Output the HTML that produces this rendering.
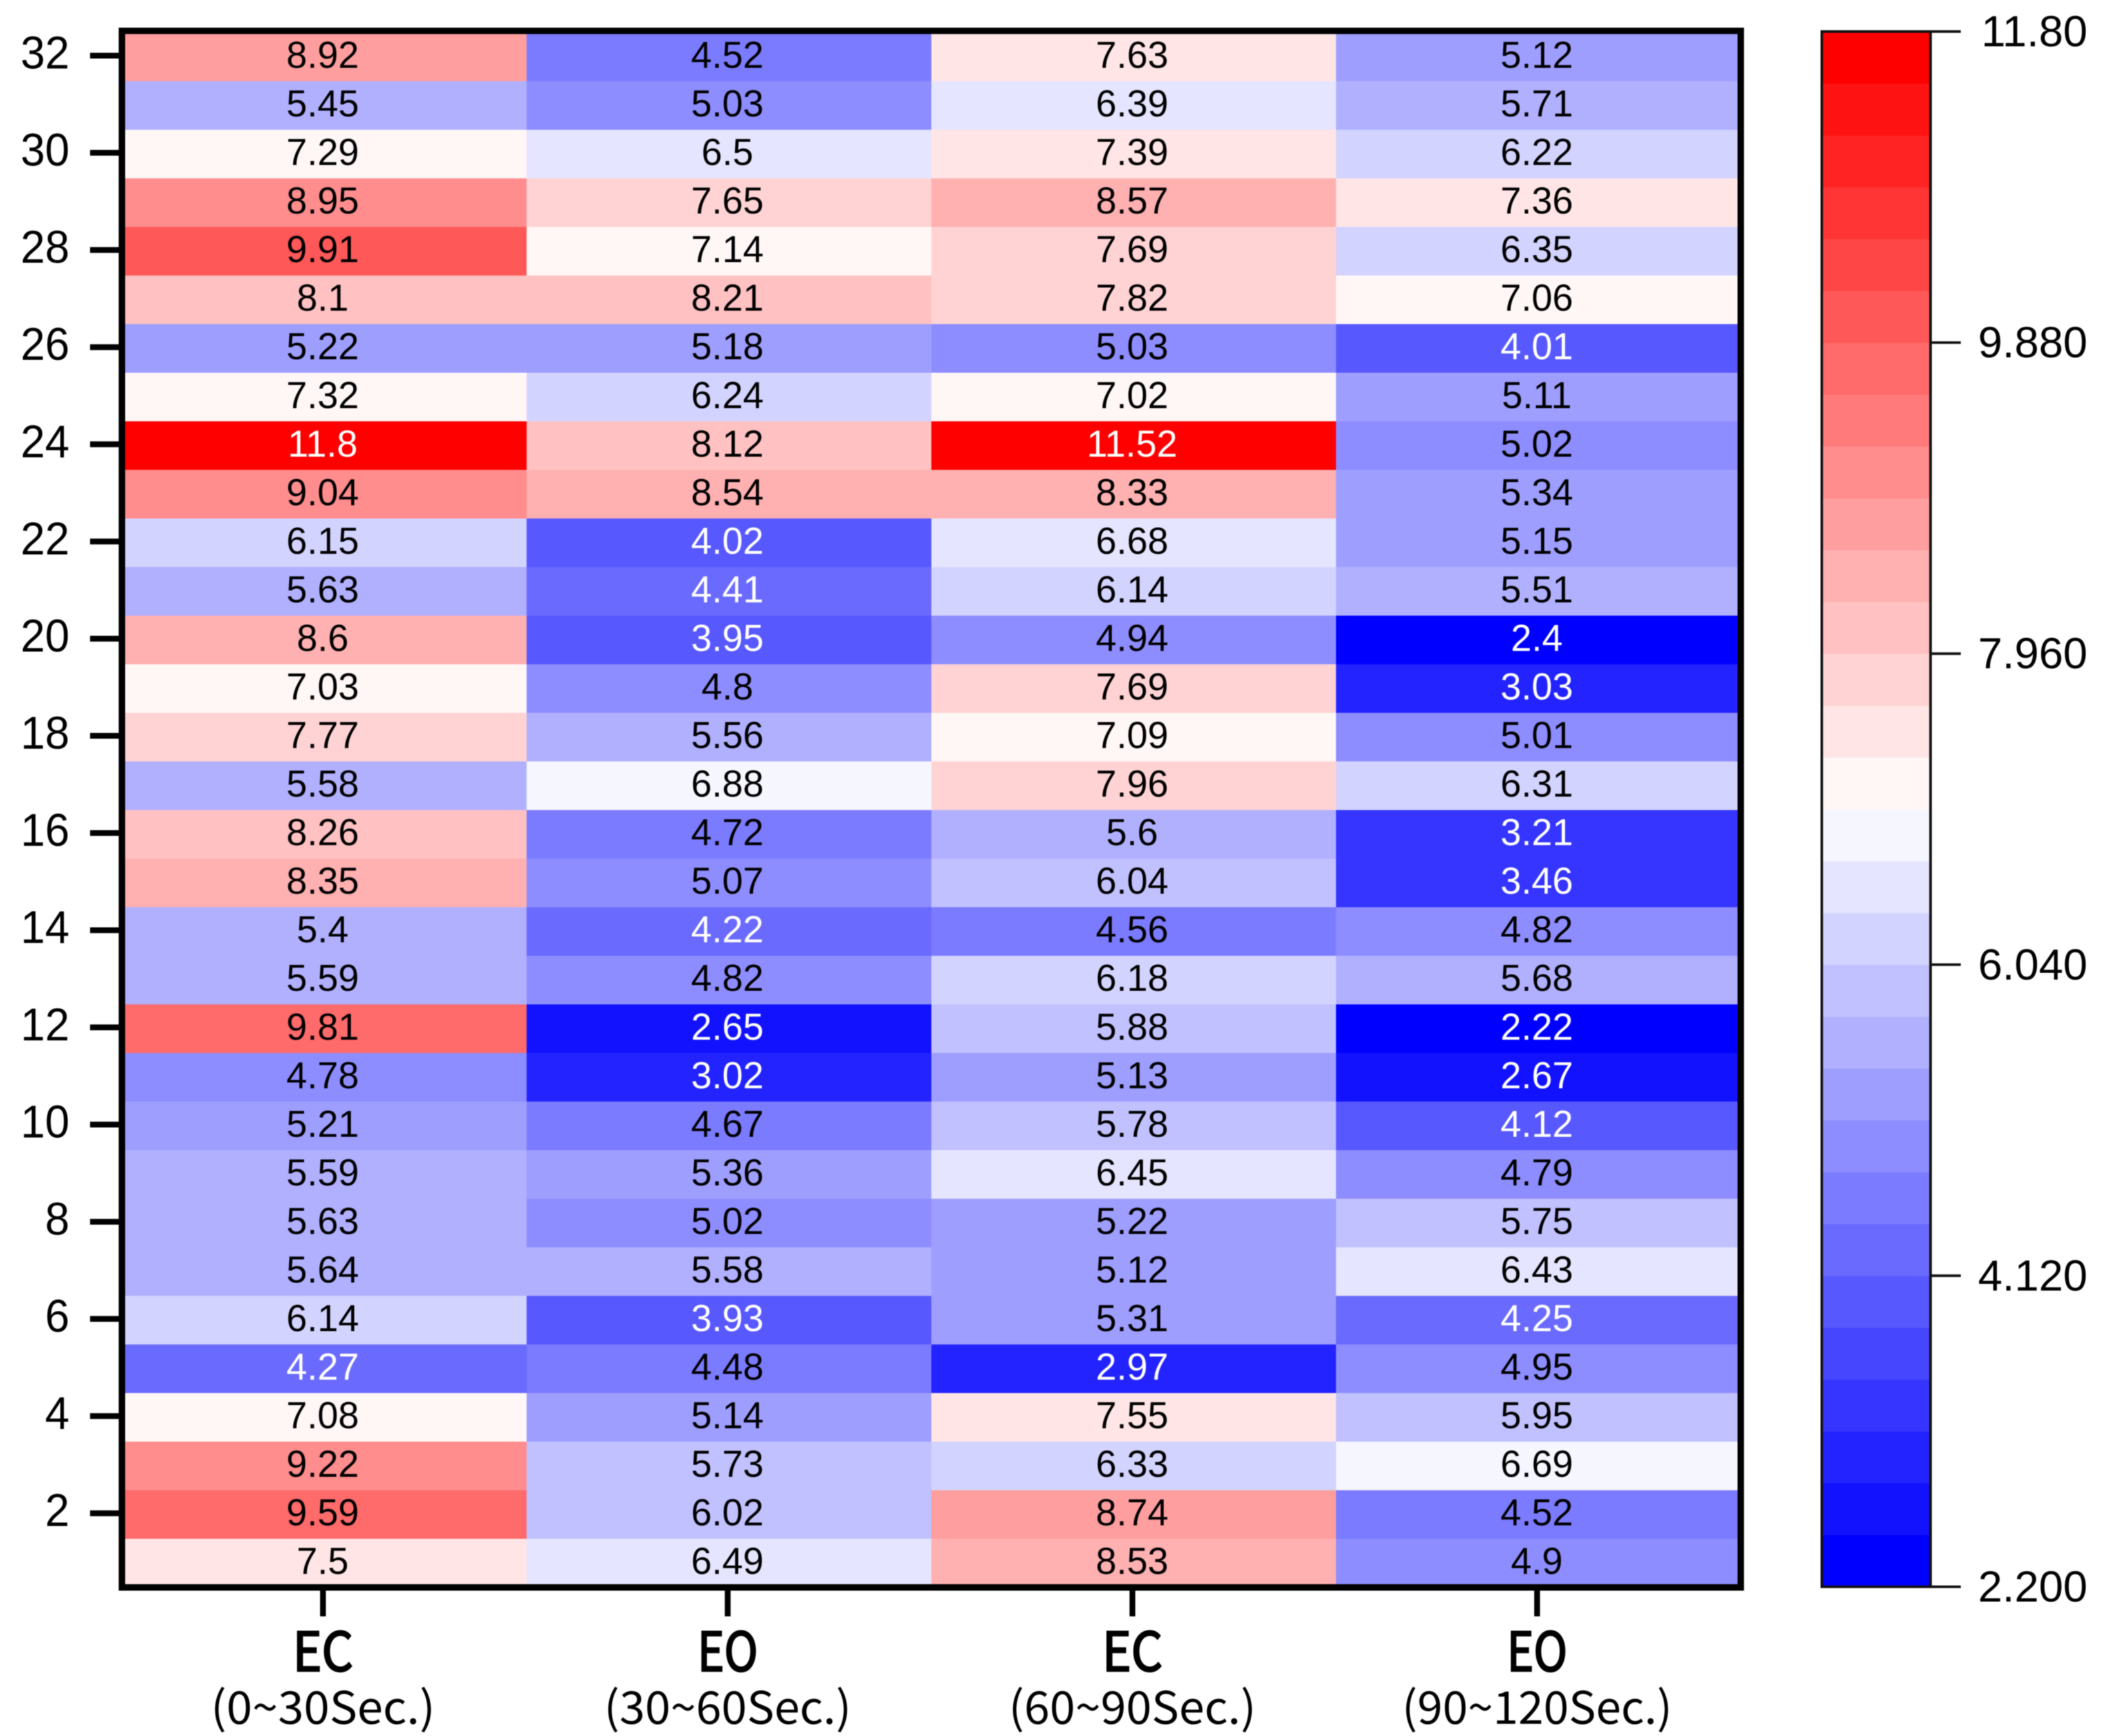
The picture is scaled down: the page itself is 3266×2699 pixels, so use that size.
<!DOCTYPE html>
<html lang="en">
<head>
<meta charset="utf-8">
<title>EC/EO heatmap</title>
<style>
html,body{margin:0;padding:0;background:#fff;}
svg{display:block;filter:blur(0.9px);}
text{font-family:"Liberation Sans",sans-serif;fill:#000;}
.xl{font-family:"Noto Sans CJK JP","Liberation Sans",sans-serif;}
</style>
</head>
<body>
<svg id="chart" xmlns="http://www.w3.org/2000/svg" width="3266" height="2699" viewBox="0 0 3266 2699"></svg>
<script>
const rowLabels = [32,31,30,29,28,27,26,25,24,23,22,21,20,19,18,17,16,15,14,13,12,11,10,9,8,7,6,5,4,3,2,1];
const ecFirst = [8.92,5.45,7.29,8.95,9.91,8.1,5.22,7.32,11.8,9.04,6.15,5.63,8.6,7.03,7.77,5.58,8.26,8.35,5.401,5.59,9.81,4.78,5.21,5.59,5.63,5.64,6.14,4.27,7.08,9.22,9.59,7.5];
const eoFirst = [4.52,5.03,6.5,7.65,7.14,8.21,5.18,6.24,8.12,8.54,4.02,4.41,3.95,4.8,5.56,6.88,4.72,5.07,4.22,4.82,2.65,3.02,4.67,5.36,5.02,5.58,3.93,4.48,5.14,5.73,6.02,6.49];
const ecSecond = [7.63,6.39,7.39,8.57,7.69,7.82,5.03,7.02,11.52,8.33,6.68,6.14,4.94,7.69,7.09,7.96,5.6,6.04,4.56,6.18,5.88,5.13,5.78,6.45,5.22,5.12,5.31,2.97,7.55,6.33,8.74,8.53];
const eoSecond = [5.12,5.71,6.22,7.36,6.35,7.06,4.01,5.11,5.02,5.34,5.15,5.51,2.4,3.03,5.01,6.31,3.21,3.46,4.82,5.68,2.22,2.67,4.12,4.79,5.75,6.43,4.25,4.95,5.95,6.69,4.52,4.9];
const seriesValues = [ecFirst, eoFirst, ecSecond, eoSecond];
const columnNames = ["EC","EO","EC","EO"];
const columnRanges = ["(0~30Sec.)","(30~60Sec.)","(60~90Sec.)","(90~120Sec.)"];
const rowTicks = [2,4,6,8,10,12,14,16,18,20,22,24,26,28,30,32];
const scaleTicks = [2.2,4.12,6.04,7.96,9.88,11.8];
const scaleTickLabels = ["2.200","4.120","6.040","7.960","9.880","11.80"];
const scaleMin = 2.2;
const scaleMax = 11.8;
const levelCount = 30;

const NS = "http://www.w3.org/2000/svg";
const svg = document.getElementById("chart");
const plot = {left:189.5, right:2706, top:50.7, bottom:2468};
const bar = {left:2832, right:3001, top:49, bottom:2467};

function make(tag, attrs, text){
  const el = document.createElementNS(NS, tag);
  for (const k in attrs) el.setAttribute(k, attrs[k]);
  if (text !== undefined) el.textContent = text;
  return el;
}
function xLeft(col){ return plot.left + col * (plot.right - plot.left) / seriesValues.length; }
function xCenter(col){ return xLeft(col + 0.5) - 2; }
function rowTop(idx){ return plot.top + idx * (plot.bottom - plot.top) / rowLabels.length; }
function yCenter(label){ return rowTop(rowLabels.indexOf(label) + 0.5) - 2; }
function levelOf(v){
  const s = (scaleMax - scaleMin) / levelCount;
  return Math.max(0, Math.min(levelCount - 1, Math.floor((v - scaleMin) / s - 0.001)));
}
function levelColor(i){
  const half = (levelCount - 1) / 2;
  const step = 255 / half;
  if (i < half) { const c = Math.round(i * step); return "rgb(" + c + "," + c + ",255)"; }
  const c = Math.round((levelCount - 1 - i) * step);
  return "rgb(255," + c + "," + c + ")";
}
function barY(v){ return bar.bottom - (v - scaleMin) / (scaleMax - scaleMin) * (bar.bottom - bar.top); }

/* heatmap cells */
seriesValues.forEach(function(values, col){
  values.forEach(function(v, idx){
    const x0 = xLeft(col), x1 = xLeft(col + 1), y0 = rowTop(idx), y1 = rowTop(idx + 1);
    const cell = make("rect", {x:x0, y:y0, width:x1 - x0 + 0.5, height:y1 - y0 + 0.5, fill:levelColor(levelOf(v))});
    
    
    svg.appendChild(cell);
  });
});
/* cell labels */
seriesValues.forEach(function(values, col){
  values.forEach(function(v, idx){
    const light = v < 4.45 || v > 11;
    const t = make("text", {x:xCenter(col) - 0.5, y:rowTop(idx + 0.5) - 2 + 19, "text-anchor":"middle", "font-size":58, style:"fill:" + (light ? "#fff" : "#000")}, String(+v.toFixed(2)));
    
    
    svg.appendChild(t);
  });
});
/* plot frame */
const frame = make("rect", {x:plot.left, y:48, width:plot.right - plot.left, height:plot.bottom - 48, fill:"none", stroke:"#000", "stroke-width":10});


svg.appendChild(frame);
/* y axis */
rowTicks.forEach(function(r){
  const y = yCenter(r);
  const tick = make("line", {x1:140, x2:186, y1:y, y2:y, stroke:"#000", "stroke-width":9});
  
  
  svg.appendChild(tick);
  const s = String(r);
  const lab = make("text", {x:108, y:y + 20, "text-anchor":"end", "font-size":71, textLength:s.length * 38, lengthAdjust:"spacingAndGlyphs"}, s);
  
  
  svg.appendChild(lab);
});
/* x axis */
columnNames.forEach(function(name, col){
  const x = xCenter(col);
  const tick = make("line", {x1:x, x2:x, y1:2472, y2:2513, stroke:"#000", "stroke-width":9});
  
  
  svg.appendChild(tick);
  const a = make("text", {x:x, y:2598, "text-anchor":"middle", "font-size":84, "class":"xl", stroke:"#000", "stroke-width":2.5, textLength:94, lengthAdjust:"spacingAndGlyphs"}, name);
  
  
  svg.appendChild(a);
  const range = columnRanges[col];
  const b = make("text", {x:x, y:2680, "text-anchor":"middle", "font-size":70, "class":"xl", textLength:range.length * 35.6 - 7, lengthAdjust:"spacingAndGlyphs"}, range);
  
  
  svg.appendChild(b);
});
/* colour bar */
for (let i = 0; i < levelCount; i++) {
  const s = (scaleMax - scaleMin) / levelCount;
  const yTop = barY(scaleMin + (i + 1) * s), yBot = barY(scaleMin + i * s);
  const band = make("rect", {x:bar.left, y:yTop, width:bar.right - bar.left, height:yBot - yTop + 0.5, fill:levelColor(i)});
  
  
  svg.appendChild(band);
}
const barFrame = make("rect", {x:bar.left, y:bar.top, width:bar.right - bar.left, height:bar.bottom - bar.top, fill:"none", stroke:"#111", "stroke-width":4});


svg.appendChild(barFrame);
scaleTicks.forEach(function(v, i){
  const y = barY(v);
  const tick = make("line", {x1:bar.right, x2:3048, y1:y, y2:y, stroke:"#111", "stroke-width":4});
  
  
  svg.appendChild(tick);
  const lab = make("text", {x:3245, y:y + 23, "text-anchor":"end", "font-size":68}, scaleTickLabels[i]);
  
  
  svg.appendChild(lab);
});
</script>
</body>
</html>
